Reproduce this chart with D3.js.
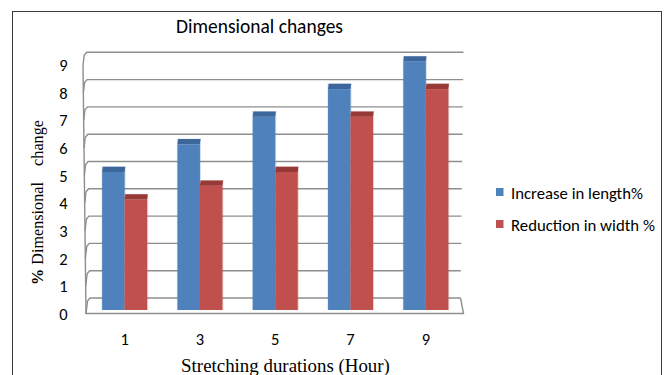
<!DOCTYPE html>
<html>
<head>
<meta charset="utf-8">
<script src="https://cdn.jsdelivr.net/npm/d3@7"></script>
<style>
  html, body { margin: 0; padding: 0; background: #fff; }
  svg { display: block; }
</style>
</head>
<body>
<svg id="chart" width="666" height="375"></svg>
<script>
// Data
const categories = ["1", "3", "5", "7", "9"];
const increaseInLength = [5, 6, 7, 8, 9];
const reductionInWidth = [4, 4.5, 5, 7, 8];
const yTickValues = [0, 1, 2, 3, 4, 5, 6, 7, 8, 9];
const seriesNames = ["Increase in length%", "Reduction in width %"];
const seriesFront = ["#4F81BD", "#C0504D"];
const seriesTop = ["#3D679A", "#973A37"];

const chartTitle = "Dimensional changes";
const xTitle = "Stretching durations (Hour)";
const yTitle = ["%", " Dimensional\u00A0\u00A0\u00A0\u00A0change"];

const sansFont = "Carlito, Calibri, Lato, 'Open Sans', sans-serif";
const serifFont = "'Liberation Serif', 'Times New Roman', serif";

const svg = d3.select("#chart");

// Scales: back wall, bar front plane and front edge of the floor (3D look)
const x = d3.scaleBand().domain(categories).range([87, 463.5]);
const inner = d3.scaleBand().domain([0, 1]).range([0, 45]);
const yBack = d3.scaleLinear().domain([0, 9]).range([298, 52.3]);
const yBar = d3.scaleLinear().domain([0, 9]).range([310, 61.5]);
const yFront = d3.scaleLinear().domain([0, 9]).range([314, 65]);
const xBackLeft = d3.scaleLinear().domain([0, 9]).range([90, 86.7]);
const xFrontLeft = d3.scaleLinear().domain([0, 9]).range([86, 83]);
const xBackRight = d3.scaleLinear().domain([0, 9]).range([460.5, 463.5]);
const depth = 5.3;

// Outer frame
svg.append("rect")
  .attr("x", 12.5).attr("y", 11.5)
  .attr("width", 649).attr("height", 380)
  .attr("fill", "none").attr("stroke", "#3a3a3a").attr("stroke-width", 1);

function fitWidth(sel, target) {
  const w = sel.node().getComputedTextLength();
  const fs = parseFloat(sel.attr("font-size"));
  sel.attr("font-size", fs * target / w);
  return sel;
}

// Title
fitWidth(svg.append("text")
  .attr("x", 259.5).attr("y", 33)
  .attr("text-anchor", "middle")
  .attr("font-family", sansFont).attr("font-size", 17)
  .attr("fill", "#000")
  .text(chartTitle), 167);

// Walls and gridlines
const grid = svg.append("g")
  .attr("fill", "none").attr("stroke", "#8e8e8e").attr("stroke-width", 1.4);

grid.selectAll("path.gl")
  .data(yTickValues)
  .join("path")
  .attr("class", "gl")
  .attr("d", v => d3.line()([
    [xBackRight(v), yBack(v)],
    [xBackLeft(v), yBack(v)],
    [xBackLeft(v) - 2.5, yBack(v) + 3],
    [xFrontLeft(v), yFront(v)]
  ]));

// front-left edge of the side wall
grid.append("path")
  .attr("d", d3.line()([[xFrontLeft(9), yFront(9)], [xFrontLeft(0), yFront(0)]]));

// floor front edge and right side
grid.append("path")
  .attr("d", d3.line()([
    [xFrontLeft(0), yFront(0) - 0.5],
    [xBackRight(0) + 3, yFront(0) - 0.5],
    [xBackRight(0), yBack(0)]
  ]));

// Bars
const series = [increaseInLength, reductionInWidth];
const bars = svg.append("g");
series.forEach((vals, si) => {
  const g = bars.append("g");
  vals.forEach((v, i) => {
    const x0 = x(categories[i]) + (x.bandwidth() - 45) / 2 + inner(si);
    const w = inner.bandwidth();
    const top = yBar(v);
    // soft edge
    g.append("rect")
      .attr("x", x0 - 0.6).attr("y", top - depth - 0.4)
      .attr("width", w + 1.6).attr("height", yBar(0) - top + depth + 0.4)
      .attr("fill", seriesFront[si]).attr("opacity", 0.25);
    // front face
    g.append("rect")
      .attr("x", x0).attr("y", top)
      .attr("width", w).attr("height", yBar(0) - top)
      .attr("fill", seriesFront[si]);
    // top face
    g.append("path")
      .attr("d", d3.line()([
        [x0, top], [x0 + w, top], [x0 + w + 0.6, top - depth], [x0 + 0.6, top - depth]
      ]) + "Z")
      .attr("fill", seriesTop[si]);
  });
});

// Y axis labels
svg.append("g")
  .selectAll("text")
  .data(yTickValues)
  .join("text")
  .attr("x", 67.5)
  .attr("y", v => yFront(v) + 6)
  .attr("text-anchor", "end")
  .attr("font-family", sansFont).attr("font-size", 16.5)
  .attr("fill", "#000")
  .text(v => v);

// X axis labels
svg.append("g")
  .selectAll("text")
  .data(categories)
  .join("text")
  .attr("x", c => x(c) + x.bandwidth() / 2)
  .attr("y", 344.5)
  .attr("text-anchor", "middle")
  .attr("font-family", sansFont).attr("font-size", 16.5)
  .attr("fill", "#000")
  .text(c => c);

// Axis titles
fitWidth(svg.append("text")
  .attr("x", 285.5).attr("y", 371.5)
  .attr("text-anchor", "middle")
  .attr("font-family", serifFont).attr("font-size", 17)
  .attr("fill", "#000")
  .text(xTitle), 209);

const yt = svg.append("text")
  .attr("transform", "translate(43,202.5) rotate(-90)")
  .attr("text-anchor", "middle")
  .attr("font-family", serifFont).attr("font-size", 17)
  .attr("fill", "#000");
yt.append("tspan").attr("font-weight", "bold").text(yTitle[0]);
yt.append("tspan").text(yTitle[1]);
fitWidth(yt, 165);

// Legend
const legend = svg.append("g");
seriesNames.forEach((name, i) => {
  const ly = 188 + i * 32;
  legend.append("rect")
    .attr("x", 496).attr("y", ly)
    .attr("width", 7.5).attr("height", 8)
    .attr("fill", seriesFront[i]);
  fitWidth(legend.append("text")
    .attr("x", 511).attr("y", ly + 10.5)
    .attr("font-family", sansFont).attr("font-size", 15)
    .attr("fill", "#000")
    .text(name), i === 0 ? 132 : 144);
});
</script>
</body>
</html>
